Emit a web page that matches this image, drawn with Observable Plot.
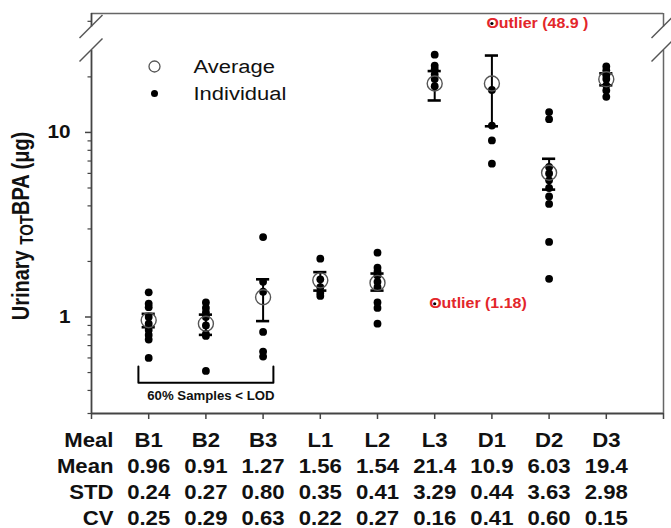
<!DOCTYPE html>
<html><head><meta charset="utf-8">
<script src="https://cdn.jsdelivr.net/npm/d3@7"></script>
<script src="https://cdn.jsdelivr.net/npm/@observablehq/plot@0.6"></script>
<style>
body{margin:0;background:#fff;}
#chart{width:671px;height:528px;}
svg{display:block;}
</style></head><body><div id="chart"></div>
<script>
const meals = ["B1","B2","B3","L1","L2","L3","D1","D2","D3"];
const indB1 = [1.36,1.18,1.13,1.0,0.92,0.85,0.80,0.755,0.60];
const indB2 = [1.20,1.12,1.06,1.0,0.90,0.81,0.79,0.51];
const indB3 = [2.71,1.55,1.37,0.83,0.65,0.61];
const indL1 = [2.07,1.60,1.45,1.35,1.30];
const indL2 = [2.23,1.85,1.76,1.68,1.55,1.45,1.20,1.12,0.92];
const indL3 = [26.4,23.0,22.0,20.6,19.5,17.8];
const indD1 = [17.0,10.9,9.05,6.77];
const indD2 = [12.9,11.8,6.5,6.0,5.5,5.0,4.5,4.1,2.55,1.61];
const indD3 = [22.8,21.7,20.4,19.5,18.0,16.9,15.6];
const avgValues = [0.96,0.92,1.28,1.58,1.53,18.4,18.4,6.05,19.4];
const errLow  = [0.88,0.80,0.95,1.39,1.39,14.9,10.8,4.9,18.0];
const errHigh = [1.04,1.03,1.60,1.75,1.72,21.5,26.1,7.2,20.9];
const outlierMeals = ["L3","D1"];
const outlierValues = [1.18,48.9];
const outlierLabels = ["Outlier (1.18)","Outlier (48.9 )"];
const tableHeader = "Meal";
const tableRowNames = ["Mean","STD","CV"];
const tableMean = ["0.96","0.91","1.27","1.56","1.54","21.4","10.9","6.03","19.4"];
const tableStd  = ["0.24","0.27","0.80","0.35","0.41","3.29","0.44","3.63","2.98"];
const tableCv   = ["0.25","0.29","0.63","0.22","0.27","0.16","0.41","0.60","0.15"];
const yMajorTicks = [1,10];
const yMinorTicks = [0.3,0.4,0.5,0.6,0.7,0.8,0.9,2,3,4,5,6,7,8,9,20,30,40];
const yDomain = [0.3,44.1];
const yBreak = [27.8,37.3];
const legendLabels = ["Average","Individual"];
const lodNote = "60% Samples < LOD";
const lodMeals = ["B1","B3"];
const lodBracketY = [0.54,0.44];
const yTitle = ["Urinary ","TOT","BPA (\u03bcg)"];

const indByMeal = [indB1,indB2,indB3,indL1,indL2,indL3,indD1,indD2,indD3];
const pos = m => meals.indexOf(m) + 1;
const indRows = indByMeal.flatMap((vals,i)=>vals.map(v=>({i:i+1,v})));
const avgRows = meals.map((m,i)=>({i:i+1,avg:avgValues[i],lo:errLow[i],hi:errHigh[i]}));
const outRows = outlierMeals.map((m,k)=>({i:pos(m),v:outlierValues[k],label:outlierLabels[k]}));
const inRange = outRows.filter(d=>d.v<=yDomain[1]);
const above = outRows.filter(d=>d.v>yDomain[1]);
const tableRows = [tableMean,tableStd,tableCv];
const capHalf = 0.115;
const lodPad = 0.18;
const bx1 = pos(lodMeals[0]) - lodPad, bx2 = pos(lodMeals[1]) + lodPad;
const bracket = [{x:bx1,y:lodBracketY[0]},{x:bx1,y:lodBracketY[1]},{x:bx2,y:lodBracketY[1]},{x:bx2,y:lodBracketY[0]}];
const red = "#e3262a";
const axisCol = "#444";

const TF = 20.5; // table font size
const tableMarks = [];
const rowDy = [27,53,79,105];
const tOpt = {lineAnchor:"middle",fontSize:TF,fontWeight:"bold",fill:"#111"};
tableMarks.push(Plot.text([tableHeader],{...tOpt,frameAnchor:"bottom-left",dx:22,dy:rowDy[0],text:d=>d,textAnchor:"end"}));
tableMarks.push(Plot.text(meals,{...tOpt,x:(d,i)=>i+1,frameAnchor:"bottom",dy:rowDy[0],text:d=>d}));
tableRows.forEach((row,r)=>{
  tableMarks.push(Plot.text([tableRowNames[r]],{...tOpt,frameAnchor:"bottom-left",dx:22,dy:rowDy[r+1],text:d=>d,textAnchor:"end"}));
  tableMarks.push(Plot.text(row,{...tOpt,x:(d,i)=>i+1,frameAnchor:"bottom",dy:rowDy[r+1],text:d=>d}));
});

const plot = Plot.plot({
  width:671, height:528,
  marginLeft:91, marginRight:8, marginTop:13, marginBottom:115,
  style:{fontFamily:"'Liberation Sans', Arial, sans-serif", background:"#fff", overflow:"visible"},
  x:{type:"linear", domain:[0,10], axis:null},
  y:{type:"log", domain:yDomain, clamp:true, axis:null},
  marks:[
    Plot.ruleY([yDomain[1]],{stroke:"#666",strokeWidth:1.5}),
    Plot.ruleX([10],{stroke:"#666",strokeWidth:1.5}),
    Plot.ruleX([0],{stroke:axisCol,strokeWidth:1.8}),
    Plot.ruleY([yDomain[0]],{stroke:axisCol,strokeWidth:1.8}),
    Plot.axisX({ticks:d3.range(0,11),tickSize:6,tickFormat:()=>"",label:null,stroke:axisCol,strokeWidth:1.5}),
    Plot.axisY({ticks:yMajorTicks,tickSize:6,tickPadding:15,tickFormat:d=>String(d),label:null,fontSize:18.5,fontWeight:"bold",stroke:axisCol,strokeWidth:1.5,fill:"#111"}),
    Plot.axisY({ticks:yMinorTicks,tickSize:3.5,tickFormat:()=>"",label:null,stroke:axisCol,strokeWidth:1.2}),
    Plot.dot(indRows,{x:"i",y:"v",r:3.9,fill:"#000"}),
    Plot.ruleX(avgRows,{x:"i",y1:"lo",y2:"hi",stroke:"#000",strokeWidth:2}),
    Plot.ruleY(avgRows,{y:"hi",x1:d=>d.i-capHalf,x2:d=>d.i+capHalf,stroke:"#000",strokeWidth:2.6}),
    Plot.ruleY(avgRows,{y:"lo",x1:d=>d.i-capHalf,x2:d=>d.i+capHalf,stroke:"#000",strokeWidth:2.6}),
    Plot.dot(avgRows,{x:"i",y:"avg",r:7.5,stroke:"#555",strokeWidth:1.4,fill:"none"}),
    Plot.dot(inRange,{x:"i",y:"v",r:1.6,fill:"#000"}),
    Plot.text(inRange,{x:"i",y:"v",text:"label",textAnchor:"start",dx:-5.5,fill:red,fontSize:14.5,fontWeight:"bold"}),
    Plot.dot(above,{x:"i",y:"v",r:1.6,fill:"#000",dy:10}),
    Plot.text(above,{x:"i",y:"v",text:"label",textAnchor:"start",dx:-5.5,dy:10,fill:red,fontSize:14.5,fontWeight:"bold"}),
    Plot.line(bracket,{x:"x",y:"y",stroke:"#000",strokeWidth:2}),
    Plot.text([lodNote],{x:(bx1+bx2)/2,y:0.372,text:d=>d,dx:5,fontSize:12,fontWeight:"bold",fill:"#111"}),
    Plot.dot([legendLabels[0]],{frameAnchor:"top-left",dx:63,dy:53,r:5.5,stroke:"#555",strokeWidth:1.3,fill:"none"}),
    Plot.dot([legendLabels[1]],{frameAnchor:"top-left",dx:63,dy:80,r:3.5,fill:"#000"}),
    Plot.text([legendLabels[0]],{frameAnchor:"top-left",lineAnchor:"middle",dx:102,dy:53.5,text:d=>d,textAnchor:"start",fontSize:18,fill:"#111"}),
    Plot.text([legendLabels[1]],{frameAnchor:"top-left",lineAnchor:"middle",dx:102,dy:80.5,text:d=>d,textAnchor:"start",fontSize:18,fill:"#111"}),
    ...tableMarks
  ]
});
document.getElementById("chart").appendChild(plot);

// widen glyphs horizontally (reference text is wide); factor by font size
const kBySize = {18.5:1.12, 18:1.22, 14.5:1.1, 12:1.1, 20.5:1.08};
plot.querySelectorAll("text").forEach(t=>{
  const fs = parseFloat(getComputedStyle(t).fontSize);
  const K = kBySize[fs] || 1.1;
  const len = t.getComputedTextLength();
  if (len>0){ t.setAttribute("textLength", len*K); t.setAttribute("lengthAdjust","spacingAndGlyphs"); }
});

const svg = d3.select(plot);
const ys = plot.scale("y"), xs = plot.scale("x");
const yb1 = ys.apply(yBreak[0]), yb2 = ys.apply(yBreak[1]);
[xs.apply(0), xs.apply(10)].forEach(x0=>{
  svg.append("rect").attr("x",x0-4).attr("y",yb2).attr("width",8).attr("height",yb1-yb2).attr("fill","#fff");
  [yb1,yb2].forEach(yc=>{
    svg.append("line").attr("x1",x0-11.5).attr("y1",yc+11.5).attr("x2",x0+11.5).attr("y2",yc-11.5)
      .attr("stroke","#555").attr("stroke-width",1.4);
  });
});
const cy = (ys.apply(yDomain[0]) + ys.apply(yDomain[1]))/2 + 13;
const title = svg.append("text")
  .attr("transform",`translate(29,${cy}) rotate(-90) scale(1,1.2)`)
  .attr("text-anchor","middle")
  .attr("font-family","'Liberation Sans', Arial, sans-serif")
  .attr("font-weight","bold").attr("font-size",20).attr("fill","#111");
title.append("tspan").text(yTitle[0]);
title.append("tspan").attr("font-size",15).attr("dy",3).text(yTitle[1]);
title.append("tspan").attr("dy",-3).text(yTitle[2]);
</script></body></html>
